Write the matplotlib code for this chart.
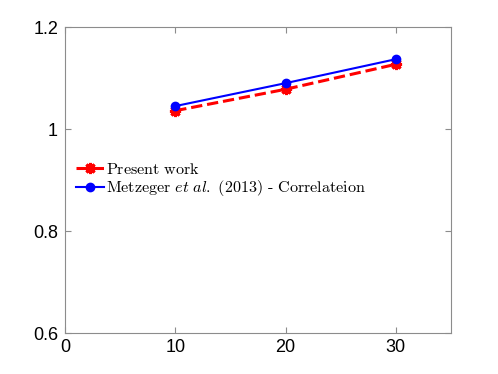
import matplotlib.pyplot as plt
import numpy as np

plt.rcParams['mathtext.fontset'] = 'cm'

x = [10, 20, 30]
present_work = [1.036, 1.078, 1.127]
metzeger = [1.045, 1.090, 1.137]

xticks = [0, 10, 20, 30]
yticks = [0.6, 0.8, 1.0, 1.2]

fig = plt.figure(figsize=(4.98, 3.74), dpi=100)
ax = fig.add_axes([0.1305, 0.1096, 0.775, 0.818])

ax.plot(x, present_work, color='red', linestyle='--', linewidth=2.2,
        marker=(8, 2, 0), markersize=8, markeredgewidth=2.2,
        label=r'$\mathrm{Present\ work}$')
ax.plot(x, metzeger, color='blue', linestyle='-', linewidth=1.5,
        marker='o', markersize=6,
        label=r'$\mathrm{Metzeger}\ \mathit{et\ al.}\ \mathrm{(2013)}\ \text{-}\ \mathrm{Correlateion}$')

ax.set_xlim(0, 35)
ax.set_ylim(0.6, 1.2)
ax.set_xticks(xticks)
ax.set_yticks(yticks)
ax.set_xticklabels(['0', '10', '20', '30'], fontfamily='Liberation Sans', fontsize=13)
ax.set_yticklabels(['0.6', '0.8', '1', '1.2'], fontfamily='Liberation Sans', fontsize=13)

for s in ax.spines.values():
    s.set_color('#8c8c8c')
    s.set_linewidth(0.8)
ax.tick_params(direction='in', top=True, right=True, color='#8c8c8c',
               length=4, labelcolor='black')
ax.tick_params(axis='x', pad=4.5)
ax.tick_params(axis='y', pad=5)

ax.legend(loc='center left', bbox_to_anchor=(0.0, 0.5), frameon=False,
          fontsize=11.6, handlelength=1.7, handletextpad=0.15,
          labelspacing=0.1, borderaxespad=0.3)

fig.savefig('out.png', dpi=100)
